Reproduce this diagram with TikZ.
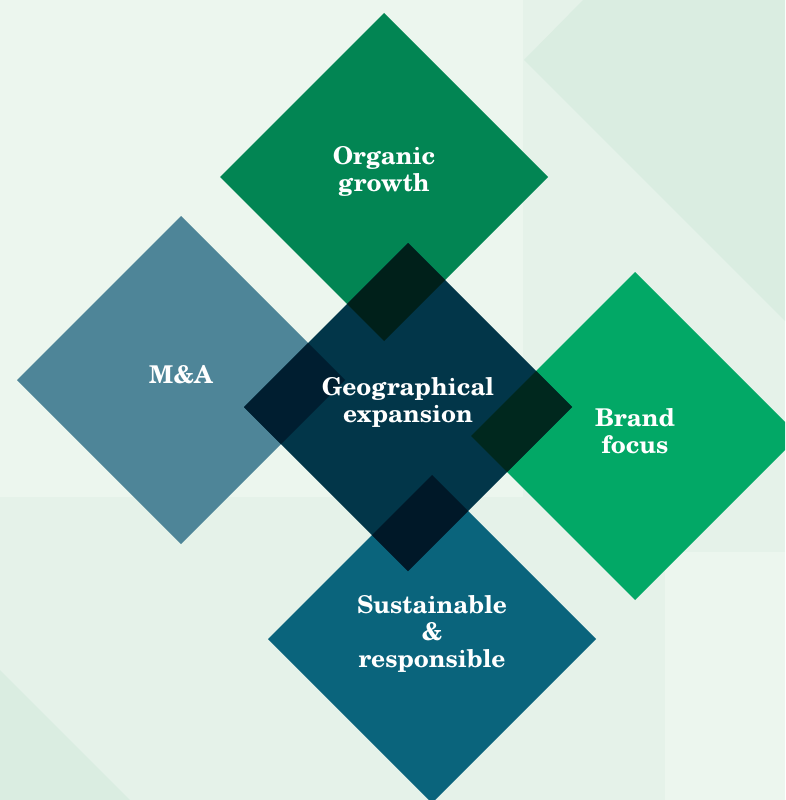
\documentclass[tikz,border=0pt]{standalone}
\usepackage{fontspec}
\setmainfont{texgyreschola}[Extension=.otf, UprightFont=*-regular, BoldFont=*-bold]
\usetikzlibrary{shapes.geometric}

\definecolor{bglight}{HTML}{ECF6EE}
\definecolor{bgmid}{HTML}{E5F2E9}
\definecolor{bgdark}{HTML}{DAEDE1}
\definecolor{organicgreen}{HTML}{028553}
\definecolor{mablue}{HTML}{4E8598}
\definecolor{geonavy}{HTML}{023649}
\definecolor{brandgreen}{HTML}{02A866}
\definecolor{sustteal}{HTML}{0A647C}
\definecolor{ovorganic}{HTML}{00201A}
\definecolor{ovma}{HTML}{001E30}
\definecolor{ovbrand}{HTML}{00281E}
\definecolor{ovsust}{HTML}{001828}

\begin{document}
\begin{tikzpicture}[x = 1pt, y = -1pt,
	tile/.style = {diamond, aspect = 1, minimum size = 328pt, inner sep = 0pt, outer sep = 0pt},
	tag/.style = {text = white, align = center, font = \bfseries\fontsize{24.5}{27}\selectfont}]
				%	background
				\clip (0, 0) rectangle (785, 800);
				\fill[bgmid] (0, 0) rectangle (785, 800);
				\fill[bglight] (0, 0) rectangle (523, 497);
				\fill[bglight] (665, 552) rectangle (785, 800);
				\fill[bgdark] (583, 0) -- (785, 0) -- (785, 321) -- (524, 60) -- cycle;
				\fill[bgdark] (0, 670) -- (130, 800) -- (0, 800) -- cycle;
				
				%	tiles
				\node[tile, fill = organicgreen] (organic) at (384, 177) {};
				\node[tile, fill = mablue] (ma) at (181, 380) {};
				\node[tile, fill = brandgreen] (brand) at (635, 436) {};
				\node[tile, fill = sustteal] (sust) at (432, 639) {};
				\node[tile, fill = geonavy] (geo) at (408, 407) {};
				
				%	overlaps
				\begin{scope}
				\clip (geo.north) -- (geo.east) -- (geo.south) -- (geo.west) -- cycle;
				\foreach \n/\c in {organic/ovorganic, ma/ovma, brand/ovbrand, sust/ovsust}
					\fill[\c] (\n.north) -- (\n.east) -- (\n.south) -- (\n.west) -- cycle;
				\end{scope}
				
				%	labels
				\node[tag] (organic-tag) at ([yshift = 6pt]organic.center) {Organic\\growth};
				\node[tag] (ma-tag) at ([yshift = 5pt]ma.center) {M\&A};
				\node[tag] (geo-tag) at ([yshift = 5pt]geo.center) {Geographical\\expansion};
				\node[tag] (brand-tag) at ([yshift = 5pt]brand.center) {Brand\\focus};
				\node[tag] (sust-tag) at ([yshift = 5pt]sust.center) {Sustainable\\\&\\responsible};
\end{tikzpicture}
\end{document}
